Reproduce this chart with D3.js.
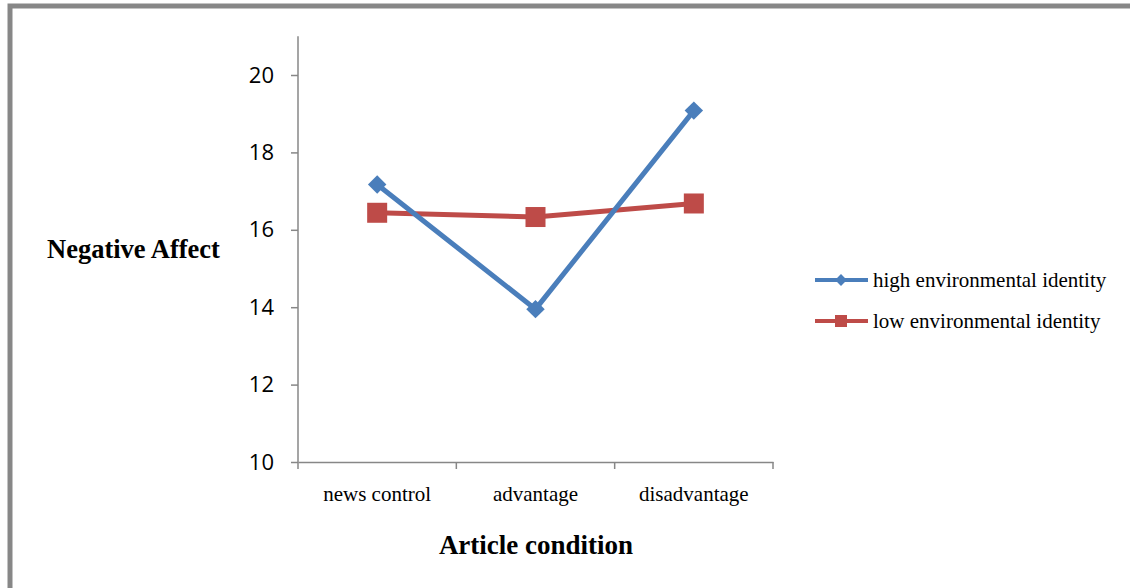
<!DOCTYPE html>
<html>
<head>
<meta charset="utf-8">
<script src="https://cdn.jsdelivr.net/npm/d3@7"></script>
<style>
  body { margin: 0; background: #fff; }
</style>
</head>
<body>
<script>
const categories = ["news control", "advantage", "disadvantage"];
const highIdentity = [17.17, 13.95, 19.08];
const lowIdentity = [16.44, 16.33, 16.68];
const yTicks = [10, 12, 14, 16, 18, 20];
const seriesNames = ["high environmental identity", "low environmental identity"];

let svg = d3.select("body").append("svg")
  .attr("width", 1130)
  .attr("height", 588);

// outer frame
svg.append("rect")
  .attr("x", 10).attr("y", 6)
  .attr("width", 1140).attr("height", 600)
  .attr("fill", "none")
  .attr("stroke", "#878787")
  .attr("stroke-width", 5);

const x = d3.scaleBand().domain(categories).range([298, 773]);
const y = d3.scaleLinear().domain([10, 21]).range([462, 36.3]);

// y axis
const yAxis = svg.append("g")
  .attr("transform", "translate(298,0)")
  .call(d3.axisLeft(y).tickValues(yTicks).tickSize(7).tickPadding(17));
yAxis.select(".domain").attr("stroke", "#878787").attr("stroke-width", 1.5).attr("d", "M0," + y(21) + "V" + y(10));
yAxis.selectAll(".tick line").attr("stroke", "#878787").attr("stroke-width", 1.5);
yAxis.selectAll(".tick text")
  .attr("font-family", "'Open Sans', sans-serif")
  .attr("font-size", "22px")
  .attr("fill", "#000");

// x axis
const xAxis = svg.append("g")
  .attr("transform", "translate(0,462)")
  .call(d3.axisBottom(x).tickSize(0).tickPadding(24));
xAxis.select(".domain").attr("stroke", "#878787").attr("stroke-width", 1.5);
xAxis.selectAll(".tick text")
  .attr("font-family", "'Liberation Serif', serif")
  .attr("font-size", "21px")
  .attr("fill", "#000");
// boundary ticks between categories
const bounds = categories.map(c => x(c)).concat([x.range()[1]]);
svg.selectAll(".xb")
  .data(bounds)
  .enter()
  .append("line")
  .attr("x1", d => d).attr("x2", d => d)
  .attr("y1", 462).attr("y2", 469)
  .attr("stroke", "#878787")
  .attr("stroke-width", 1.5);

const cx = c => x(c) + x.bandwidth() / 2;

const line = d3.line()
  .x((d, i) => cx(categories[i]))
  .y(d => y(d));

// low series
svg.append("path")
  .datum(lowIdentity)
  .attr("d", line)
  .attr("fill", "none")
  .attr("stroke", "#BE4B48")
  .attr("stroke-width", 5);
svg.selectAll(".sq")
  .data(lowIdentity)
  .enter()
  .append("rect")
  .attr("x", (d, i) => cx(categories[i]) - 10)
  .attr("y", d => y(d) - 10)
  .attr("width", 20).attr("height", 20)
  .attr("fill", "#BE4B48");

// high series
svg.append("path")
  .datum(highIdentity)
  .attr("d", line)
  .attr("fill", "none")
  .attr("stroke", "#4A7EBB")
  .attr("stroke-width", 5);
svg.selectAll(".dm")
  .data(highIdentity)
  .enter()
  .append("path")
  .attr("d", d3.symbol(d3.symbolSquare, 170))
  .attr("transform", (d, i) => "translate(" + cx(categories[i]) + "," + y(d) + ") rotate(45)")
  .attr("fill", "#4A7EBB");

// axis titles
svg.append("text")
  .attr("x", 47).attr("y", 258)
  .attr("font-family", "'Liberation Serif', serif")
  .attr("font-weight", "bold")
  .attr("font-size", "26.5px")
  .attr("fill", "#000")
  .text("Negative Affect");

svg.append("text")
  .attr("x", 536).attr("y", 554)
  .attr("text-anchor", "middle")
  .attr("font-family", "'Liberation Serif', serif")
  .attr("font-weight", "bold")
  .attr("font-size", "27px")
  .attr("fill", "#000")
  .text("Article condition");

// legend
const legendColors = ["#4A7EBB", "#BE4B48"];
const leg = svg.selectAll(".leg")
  .data(seriesNames)
  .enter()
  .append("g")
  .attr("transform", (d, i) => "translate(815," + (280 + i * 41) + ")");
leg.append("line")
  .attr("x1", 0).attr("x2", 53)
  .attr("stroke", (d, i) => legendColors[i])
  .attr("stroke-width", 4);
leg.each(function(d, i) {
  const g = d3.select(this);
  if (i == 0) {
    g.append("path")
      .attr("d", d3.symbol(d3.symbolSquare, 70))
      .attr("transform", "translate(26,0) rotate(45)")
      .attr("fill", legendColors[0]);
  } else {
    g.append("rect")
      .attr("x", 20).attr("y", -6)
      .attr("width", 12).attr("height", 12)
      .attr("fill", legendColors[1]);
  }
});
leg.append("text")
  .attr("x", 58).attr("y", 7)
  .attr("font-family", "'Liberation Serif', serif")
  .attr("font-size", "21px")
  .attr("fill", "#000")
  .text(d => d);
</script>
</body>
</html>
